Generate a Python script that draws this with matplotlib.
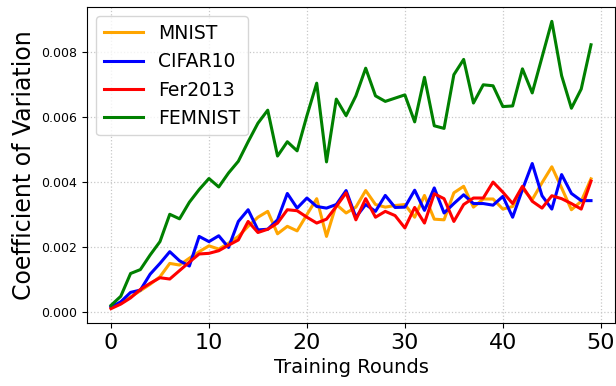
import matplotlib
matplotlib.use("Agg")
import matplotlib.pyplot as plt
import numpy as np


rounds = np.arange(50)

mnist = [
    0.00013, 0.00026, 0.00046, 0.00065, 0.00085, 0.00108, 0.00149, 0.00144, 0.00165, 0.00185,
    0.00203, 0.00193, 0.00211, 0.00232, 0.00263, 0.00291, 0.00309, 0.00240, 0.00263, 0.00249,
    0.00299, 0.00348, 0.00232, 0.00330, 0.00304, 0.00322, 0.00373, 0.00330, 0.00322, 0.00327,
    0.00330, 0.00291, 0.00358, 0.00285, 0.00283, 0.00366, 0.00386, 0.00322, 0.00347, 0.00347,
    0.00316, 0.00324, 0.00379, 0.00345, 0.00397, 0.00446, 0.00381, 0.00314, 0.00340, 0.00409,
]

cifar10 = [
    0.00015, 0.00031, 0.00060, 0.00067, 0.00116, 0.00149, 0.00185, 0.00157, 0.00141, 0.00232,
    0.00216, 0.00234, 0.00198, 0.00278, 0.00314, 0.00252, 0.00254, 0.00283, 0.00364, 0.00319,
    0.00350, 0.00324, 0.00319, 0.00330, 0.00373, 0.00291, 0.00330, 0.00309, 0.00358, 0.00321,
    0.00322, 0.00374, 0.00312, 0.00381, 0.00304, 0.00333, 0.00360, 0.00333, 0.00333, 0.00328,
    0.00355, 0.00291, 0.00376, 0.00456, 0.00357, 0.00316, 0.00422, 0.00364, 0.00342, 0.00342,
]

fer2013 = [
    0.00010, 0.00024, 0.00043, 0.00069, 0.00088, 0.00105, 0.00101, 0.00127, 0.00153, 0.00178,
    0.00180, 0.00188, 0.00205, 0.00221, 0.00278, 0.00244, 0.00254, 0.00273, 0.00314, 0.00311,
    0.00291, 0.00273, 0.00285, 0.00324, 0.00366, 0.00283, 0.00348, 0.00291, 0.00309, 0.00296,
    0.00258, 0.00321, 0.00273, 0.00363, 0.00348, 0.00278, 0.00330, 0.00350, 0.00350, 0.00399,
    0.00368, 0.00333, 0.00386, 0.00340, 0.00319, 0.00357, 0.00348, 0.00333, 0.00316, 0.00402,
]

femnist = [
    0.00020, 0.00048, 0.00118, 0.00130, 0.00175, 0.00216, 0.00300, 0.00286, 0.00337, 0.00376,
    0.00410, 0.00384, 0.00427, 0.00463, 0.00523, 0.00580, 0.00620, 0.00479, 0.00523, 0.00495,
    0.00603, 0.00703, 0.00461, 0.00654, 0.00603, 0.00664, 0.00749, 0.00664, 0.00647, 0.00657,
    0.00667, 0.00584, 0.00721, 0.00572, 0.00564, 0.00729, 0.00776, 0.00642, 0.00698, 0.00695,
    0.00631, 0.00633, 0.00747, 0.00673, 0.00783, 0.00893, 0.00726, 0.00626, 0.00685, 0.00821,
]

labels = ["MNIST", "CIFAR10", "Fer2013", "FEMNIST"]
colors = ["orange", "blue", "red", "green"]


def plot_cv(series):
    fig, ax = plt.subplots(figsize=(6.16, 3.86), dpi=100)
    fig.subplots_adjust(left=0.1412, right=0.9984, bottom=0.1632, top=0.9819)

    for ys, label, color in zip(series, labels, colors):
        ax.plot(rounds, ys, "-", color=color, lw=2.2, label=label)

    # light dotted grid behind the curves
    ax.grid(True, linestyle=":", color="#c8c8c8", lw=0.9)
    ax.set_axisbelow(True)
    ax.set_yticks([0.0, 0.002, 0.004, 0.006, 0.008])
    ax.tick_params(axis="y", labelsize=9)
    ax.tick_params(axis="x", labelsize=16)
    ax.set_xlabel("Training Rounds", fontsize=14)
    ax.set_ylabel("Coefficient of Variation", fontsize=17)
    ax.legend(loc="upper left", fontsize=13.5, handlelength=2.1)

    return fig


if __name__ == "__main__":
    fig = plot_cv([mnist, cifar10, fer2013, femnist])
    fig.savefig("out.png", dpi=100)
